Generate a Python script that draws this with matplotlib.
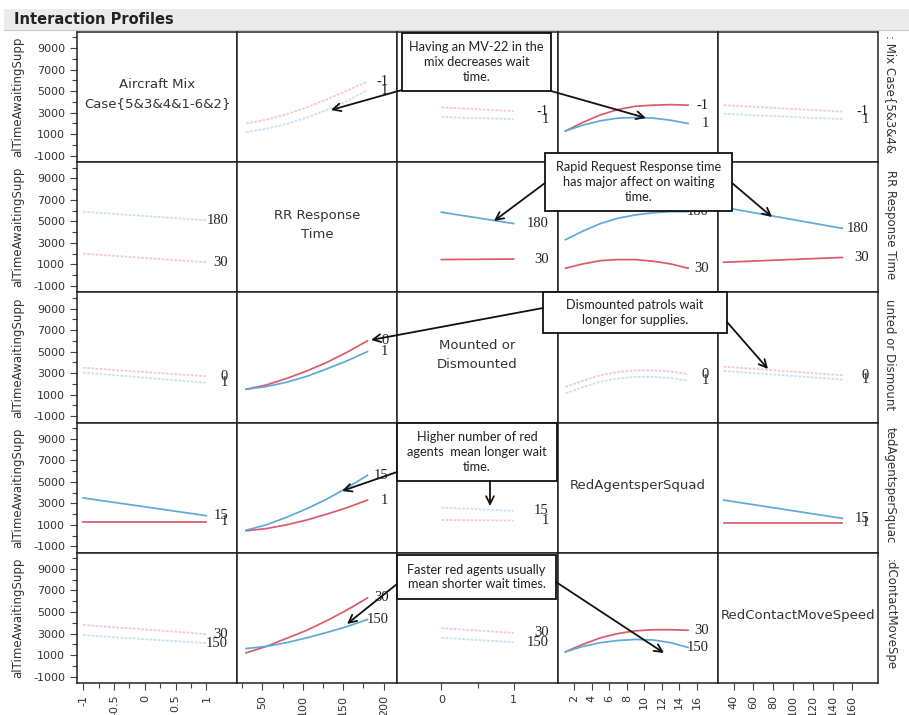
import matplotlib as mpl
import matplotlib.pyplot as plt
import numpy as np
from matplotlib.patches import Rectangle

mpl.rcParams['font.family'] = 'DejaVu Sans'

W, H = 909, 715

# factors: one per row and per column
factor_names = ['Aircraft Mix\nCase{5&3&4&1-6&2}', 'RR Response\nTime', 'Mounted or\nDismounted',
                'RedAgentsperSquad', 'RedContactMoveSpeed']
strip_names = [': Mix Case{5&3&4&', 'RR Response Time', 'unted or Dismount',
               'tedAgentsperSquac', ':dContactMoveSpe']
level_labels = [['-1', '1'], ['30', '180'], ['0', '1'], ['1', '15'], ['30', '150']]

# x values of the profile points, per column factor
col_x = [[-1, 1], [30, 55, 80, 105, 130, 155, 180], [0, 1], [1, 3, 5, 7, 9, 11, 13, 15], [30, 150]]
col_xlim = [(-1.1, 1.5), (19, 217), (-0.61, 1.61), (0.1, 18.4), (24, 186)]
col_ticks = [[-1, -0.5, 0, 0.5, 1], [50, 100, 150, 200], [0, 1], [2, 4, 6, 8, 10, 12, 14, 16],
             [40, 60, 80, 100, 120, 140, 160]]
col_ticklabels = [['-1', '-0.5', '0', '0.5', '1'], ['50', '100', '150', '200'], ['0', '1'],
                  ['2', '4', '6', '8', '10', '12', '14', '16'],
                  ['40', '60', '80', '100', '120', '140', '160']]
col_minor = [[-0.75, -0.25, 0.25, 0.75], [25, 75, 125, 175], [0.5], [], []]

# predicted wait time, (low level of row factor, high level of row factor)
row_aircraft = [None,
                ([2000, 2350, 2850, 3500, 4250, 5050, 5900], [1200, 1500, 1950, 2550, 3250, 4100, 5100]),
                ([3500, 3150], [2600, 2400]),
                ([1300, 2100, 2800, 3300, 3600, 3700, 3750, 3700],
                 [1300, 1850, 2250, 2500, 2550, 2500, 2300, 2000]),
                ([3700, 3100], [2900, 2400])]
row_rr = [([2000, 1200], [5900, 5100]),
          None,
          ([1450, 1500], [5850, 4800]),
          ([650, 1050, 1350, 1450, 1450, 1300, 1050, 650],
           [3300, 4100, 4800, 5300, 5600, 5800, 5900, 5900]),
          ([1200, 1650], [6300, 4350])]
row_mounted = [([3500, 2700], [3050, 2100]),
               ([1500, 1900, 2500, 3200, 4000, 4950, 6000], [1500, 1750, 2150, 2700, 3400, 4150, 5000]),
               None,
               ([1700, 2300, 2800, 3100, 3250, 3250, 3150, 2900],
                [1100, 1700, 2200, 2500, 2650, 2650, 2550, 2300]),
               ([3600, 2800], [3200, 2400])]
row_agents = [([1300, 1300], [3500, 1850]),
              ([450, 650, 1000, 1450, 2000, 2600, 3300], [500, 1000, 1700, 2500, 3400, 4450, 5600]),
              ([1450, 1400], [2600, 2300]),
              None,
              ([1200, 1200], [3300, 1600])]
row_speed = [([3800, 2950], [2850, 2100]),
             ([1200, 1800, 2550, 3300, 4200, 5200, 6300], [1600, 1800, 2150, 2600, 3100, 3650, 4300]),
             ([3500, 3050], [2600, 2200]),
             ([1300, 2000, 2600, 3000, 3250, 3350, 3350, 3300],
              [1300, 1800, 2150, 2350, 2450, 2400, 2150, 1700]),
             None]
rows = [row_aircraft, row_rr, row_mounted, row_agents, row_speed]

# interactions that stay highlighted, the rest are greyed out
strong_pairs = [{0, 3}, {1, 2}, {1, 3}, {1, 4}, {3, 4}]

red, blue = '#dc5a6a', '#5fa9d8'
red_pale, blue_pale = '#f4c9ce', '#c9e1f0'

fig = plt.figure(figsize=(W / 100, H / 100), dpi=100)
fig.patch.set_facecolor('white')

x0, y0, cw, rh = 77, 32, 160.2, 130.2


def px_rect(x, y, w, h):
    return [x / W, 1 - (y + h) / H, w / W, h / H]


for i in range(5):
    for j in range(5):
        ax = fig.add_axes(px_rect(x0 + j * cw, y0 + i * rh, cw, rh))
        ax.set_xlim(*col_xlim[j])
        ax.set_ylim(-1600, 10500)
        for s in ax.spines.values():
            s.set_linewidth(1.1)
            s.set_color('#222222')
        ax.tick_params(which='both', direction='out', color='#444444', width=0.8, labelsize=8,
                       labelcolor='#333333')
        ax.tick_params(which='major', length=5)
        ax.tick_params(which='minor', length=3.5)
        if j == 0:
            ax.set_yticks([-1000, 1000, 3000, 5000, 7000, 9000])
            ax.set_yticklabels(['-1000', '1000', '3000', '5000', '7000', '9000'])
            ax.set_yticks([0, 2000, 4000, 6000, 8000, 10000], minor=True)
            ax.set_ylabel('alTimeAwaitingSupp', fontsize=8.5, color='#333333')
            ax.yaxis.set_label_coords(-0.33, 0.5)
        else:
            ax.set_yticks([])
        if i == 4:
            ax.set_xticks(col_ticks[j])
            ax.set_xticklabels(col_ticklabels[j], rotation=0 if j == 2 else 90)
            ax.set_xticks(col_minor[j], minor=True)
        else:
            ax.set_xticks([])

        if i == j:
            ax.text(0.5, 0.52, factor_names[i], transform=ax.transAxes, ha='center', va='center',
                    fontsize=9.5, color='#333333', linespacing=1.6)
            continue

        lo, hi = rows[i][j]
        strong = {i, j} in strong_pairs
        if strong:
            ax.plot(col_x[j], lo, color=red, lw=1.25)
            ax.plot(col_x[j], hi, color=blue, lw=1.25)
        else:
            ax.plot(col_x[j], lo, color=red_pale, lw=1.3, ls=(0, (1.5, 0.8)))
            ax.plot(col_x[j], hi, color=blue_pale, lw=1.3, ls=(0, (1.5, 0.8)))
        tr = mpl.transforms.blended_transform_factory(ax.transAxes, ax.transData)
        for lab, vals in zip(level_labels[i], (lo, hi)):
            ax.text(1 - 9 / cw, vals[-1], lab, transform=tr, ha='right', va='center',
                    fontsize=10.5, family='Liberation Serif', color='#222222')

# overlay for header, strip labels and call-outs
ov = fig.add_axes([0, 0, 1, 1], zorder=10)
ov.set_xlim(0, W)
ov.set_ylim(H, 0)
ov.axis('off')
ov.patch.set_alpha(0)

ov.add_patch(Rectangle((4, 9), W, 21, facecolor='#ebebeb', edgecolor='none'))
ov.plot([4, W], [30, 30], color='#c8c8c8', lw=0.8)
ov.text(14, 19.5, 'Interaction Profiles', fontsize=10.5, fontweight='bold', va='center',
        color='#222222')

for i, name in enumerate(strip_names):
    ov.text(890, y0 + (i + 0.5) * rh - 3, name, rotation=270, ha='center', va='center',
            fontsize=8.5, color='#333333')

callouts = [
    ('Having an MV-22 in the\nmix decreases wait\ntime.', (402, 33, 149, 58),
     [((402, 90), (331, 110)), ((551, 91), (646, 118))]),
    ('Rapid Request Response time\nhas major affect on waiting\ntime.', (545, 153, 187, 58),
     [((545, 183), (494, 221)), ((732, 183), (772, 217))]),
    ('Dismounted patrols wait\nlonger for supplies.', (543, 292, 184, 41),
     [((543, 308), (371, 340)), ((727, 322), (768, 369))]),
    ('Higher number of red\nagents  mean longer wait\ntime.', (397, 423, 160, 58),
     [((397, 472), (342, 491)), ((490, 481), (490, 506))]),
    ('Faster red agents usually\nmean shorter wait times.', (397, 555, 159, 44),
     [((397, 584), (347, 624)), ((556, 582), (664, 653))]),
]
for text, (bx, by, bw, bh), arrows in callouts:
    ov.add_patch(Rectangle((bx, by), bw, bh, facecolor='white', edgecolor='#111111', lw=1.3))
    ov.text(bx + bw / 2, by + bh / 2, text, ha='center', va='center', fontsize=9.2,
            family='Lato', color='#222222', linespacing=1.3)
    for tail, head in arrows:
        ov.annotate('', xy=head, xytext=tail,
                    arrowprops=dict(arrowstyle='->', lw=1.3, color='#111111',
                                    mutation_scale=14, shrinkA=0, shrinkB=0))

plt.savefig('out.png', dpi=100)
plt.close()
